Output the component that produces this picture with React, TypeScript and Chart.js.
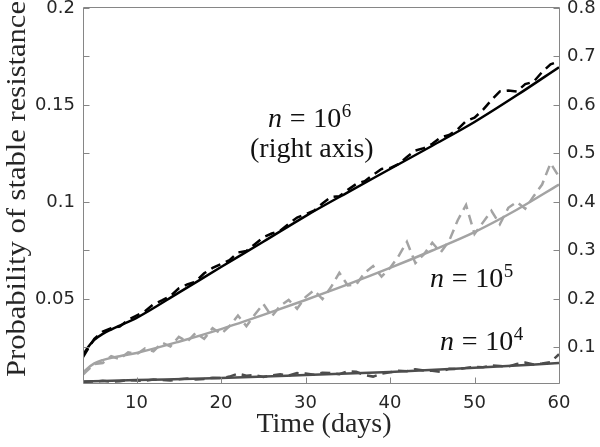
import React, { useEffect, useRef } from 'react';
import { Chart, registerables } from 'chart.js';

Chart.register(...registerables);

// ---- axis ranges ----
const X_MIN = 3.66;
const X_MAX = 60;
const LEFT_MIN = 0.0067;
const LEFT_MAX = 0.2;
const RIGHT_MIN = 0.0268;
const RIGHT_MAX = 0.8;

// ---- simulation days (dashed curves) ----
const simDays = [
  3.66, 4, 5, 6, 7, 8, 9, 10, 11, 12, 13, 14, 15, 16, 17, 18, 19, 20, 21, 22, 23, 24, 25, 26, 27, 28, 29, 30,
  31, 32, 33, 34, 35, 36, 37, 38, 39, 40, 41, 42, 43, 44, 45, 46, 47, 48, 49, 50, 51, 52, 53, 54, 55, 56, 57,
  58, 59, 60,
];

// n = 10^6, simulated (right axis)
const n6Sim = [
  0.08, 0.09, 0.118, 0.133, 0.14, 0.143, 0.157, 0.166, 0.175, 0.189, 0.197, 0.206, 0.222, 0.23, 0.236, 0.253,
  0.264, 0.272, 0.28, 0.296, 0.299, 0.313, 0.327, 0.335, 0.341, 0.355, 0.368, 0.375, 0.382, 0.397, 0.41, 0.412,
  0.425, 0.437, 0.443, 0.456, 0.468, 0.47, 0.478, 0.493, 0.506, 0.511, 0.52, 0.533, 0.538, 0.55, 0.567, 0.574,
  0.59, 0.61, 0.628, 0.63, 0.628, 0.643, 0.648, 0.668, 0.684, 0.69,
];

// n = 10^5, simulated (left axis)
const n5Sim = [
  0.011, 0.0125, 0.0165, 0.017, 0.0205, 0.019, 0.0225, 0.0215, 0.0245, 0.023, 0.0275, 0.0255, 0.0305, 0.028,
  0.0325, 0.0295, 0.035, 0.032, 0.036, 0.0415, 0.036, 0.042, 0.0475, 0.041, 0.0465, 0.0495, 0.045, 0.051, 0.0545,
  0.05, 0.056, 0.0635, 0.057, 0.0575, 0.0635, 0.067, 0.0615, 0.066, 0.072, 0.0795, 0.0685, 0.073, 0.079, 0.074,
  0.08, 0.0905, 0.0985, 0.0835, 0.0895, 0.0955, 0.0885, 0.097, 0.1, 0.0965, 0.103, 0.109, 0.12, 0.113,
];

// n = 10^4, simulated (left axis)
const n4Sim = [
  0.0072, 0.0074, 0.0075, 0.0078, 0.0074, 0.0076, 0.0082, 0.008, 0.0078, 0.0085, 0.0082, 0.008, 0.0086, 0.009,
  0.0085, 0.0088, 0.0094, 0.0092, 0.01, 0.0115, 0.0105, 0.0108, 0.0098, 0.0106, 0.0112, 0.0105, 0.0118, 0.0116,
  0.011, 0.012, 0.0118, 0.0112, 0.0128, 0.0125, 0.0108, 0.01, 0.0115, 0.0122, 0.013, 0.0128, 0.0138, 0.0132,
  0.013, 0.0125, 0.014, 0.0138, 0.0145, 0.015, 0.0148, 0.0158, 0.0155, 0.0152, 0.0165, 0.0172, 0.0162, 0.0168,
  0.0175, 0.0215,
];

// ---- model curves (solid) ----
const n6FitDays = [3.66, 4, 4.5, 5, 6, 7, 8, 9, 10, 15, 20, 25, 30, 35, 40, 45, 50, 55, 60];
const n6Fit = [0.084, 0.094, 0.106, 0.116, 0.128, 0.137, 0.145, 0.153, 0.161, 0.213, 0.266, 0.318, 0.371, 0.42, 0.468, 0.516, 0.565, 0.62, 0.678];

const n5FitDays = [3.66, 4, 5, 6, 8, 10, 15, 20, 25, 30, 35, 40, 45, 50, 55, 60];
const n5Fit = [0.0119, 0.0135, 0.0168, 0.0185, 0.0205, 0.0222, 0.028, 0.0345, 0.0418, 0.0495, 0.0575, 0.066, 0.075, 0.0845, 0.096, 0.109];

const n4FitDays = [3.66, 10, 20, 30, 40, 50, 60];
const n4Fit = [0.0075, 0.0082, 0.0093, 0.0108, 0.0124, 0.0145, 0.017];

// ---- ticks ----
const xTicks = [10, 20, 30, 40, 50, 60];
const xTickLabels = ['10', '20', '30', '40', '50', '60'];
const leftTicks = [0.025, 0.05, 0.075, 0.1, 0.125, 0.15, 0.175, 0.2];
const leftTickLabels = ['', '0.05', '', '0.1', '', '0.15', '', '0.2'];
const rightTicks = [0.1, 0.2, 0.3, 0.4, 0.5, 0.6, 0.7, 0.8];
const rightTickLabels = ['0.1', '0.2', '0.3', '0.4', '0.5', '0.6', '0.7', '0.8'];

// ---- texts ----
const xTitle = 'Time (days)';
const yTitle = 'Probability of stable resistance';
const n6Exp = '6';
const n5Exp = '5';
const n4Exp = '4';
const rightAxisNote = '(right axis)';

const BLACK = '#000000';
const LIGHT = '#a3a3a3';
const DARK = '#4d4d4d';
const FRAME = '#868686';
const TEXT = '#262626';
const SERIF = '"Liberation Serif", "Times New Roman", serif';
const SANS = '"DejaVu Sans", sans-serif';

const pts = (xs: number[], ys: number[]) => xs.map((x, i) => ({ x, y: ys[i] }));

function drawMath(ctx: CanvasRenderingContext2D, x: number, baseline: number, exp: string, size: number) {
  ctx.textAlign = 'left';
  ctx.textBaseline = 'alphabetic';
  ctx.font = `italic ${size}px ${SERIF}`;
  ctx.fillText('n', x, baseline);
  let cx = x + ctx.measureText('n').width;
  ctx.font = `${size}px ${SERIF}`;
  const thick = size * 0.278;
  cx += thick;
  ctx.fillText('=', cx, baseline);
  cx += ctx.measureText('=').width + thick;
  ctx.fillText('10', cx, baseline);
  cx += ctx.measureText('10').width;
  ctx.font = `${Math.round(size * 0.68)}px ${SERIF}`;
  ctx.fillText(exp, cx + 0.5, baseline - size * 0.36);
}

const framePlugin = {
  id: 'frameAndText',
  afterDraw(chart: any) {
    const ctx: CanvasRenderingContext2D = chart.ctx;
    const { left, right, top, bottom } = chart.chartArea;
    const xs = chart.scales.x;
    const yl = chart.scales.y;
    const yr = chart.scales.y1;
    ctx.save();
    ctx.strokeStyle = FRAME;
    ctx.lineWidth = 1;
    const L = Math.round(left) + 0.5;
    const R = Math.round(right) + 0.5;
    const T = Math.round(top) - 0.5;
    const B = Math.round(bottom) + 0.5;
    ctx.beginPath();
    ctx.moveTo(L, T);
    ctx.lineTo(R, T);
    ctx.lineTo(R, B);
    ctx.lineTo(L, B);
    ctx.closePath();
    ctx.stroke();
    const tl = 6;
    ctx.beginPath();
    leftTicks.forEach((v) => {
      const p = Math.round(yl.getPixelForValue(v)) + 0.5;
      ctx.moveTo(L, p);
      ctx.lineTo(L + tl, p);
    });
    rightTicks.forEach((v) => {
      const p = Math.round(yr.getPixelForValue(v)) + 0.5;
      ctx.moveTo(R, p);
      ctx.lineTo(R - tl, p);
    });
    xTicks.forEach((v) => {
      const p = Math.round(xs.getPixelForValue(v)) + 0.5;
      ctx.moveTo(p, B);
      ctx.lineTo(p, B - tl);
    });
    ctx.stroke();

    // titles
    ctx.fillStyle = TEXT;
    ctx.font = `28px ${SERIF}`;
    ctx.textAlign = 'center';
    ctx.textBaseline = 'alphabetic';
    ctx.fillText(xTitle, 324, 432);
    ctx.save();
    ctx.translate(25, 189);
    ctx.rotate(-Math.PI / 2);
    const w = ctx.measureText(yTitle).width;
    ctx.scale(376 / w, 1);
    ctx.fillText(yTitle, 0, 0);
    ctx.restore();

    // annotations
    ctx.fillStyle = '#111111';
    drawMath(ctx, 268, 127, n6Exp, 28);
    ctx.font = `28px ${SERIF}`;
    ctx.textAlign = 'left';
    ctx.fillText(rightAxisNote, 250, 157);
    drawMath(ctx, 430, 287, n5Exp, 28);
    drawMath(ctx, 440, 350, n4Exp, 28);
    ctx.restore();
  },
};

const noPad = (s: any) => {
  s.paddingTop = 0;
  s.paddingBottom = 0;
  s.paddingLeft = 0;
  s.paddingRight = 0;
};

export default function App() {
  const ref = useRef<HTMLCanvasElement | null>(null);
  useEffect(() => {
    if (!ref.current) return;
    const dashed = [10, 6];
    const chart = new Chart(ref.current, {
      type: 'line',
      data: {
        datasets: [
          { data: pts(simDays, n4Sim), yAxisID: 'y', borderColor: DARK, borderWidth: 2.5, borderDash: dashed, pointRadius: 0, tension: 0 },
          { data: pts(n4FitDays, n4Fit), yAxisID: 'y', borderColor: DARK, borderWidth: 2.5, pointRadius: 0, cubicInterpolationMode: 'monotone' },
          { data: pts(simDays, n5Sim), yAxisID: 'y', borderColor: LIGHT, borderWidth: 2.5, borderDash: dashed, pointRadius: 0, tension: 0 },
          { data: pts(n5FitDays, n5Fit), yAxisID: 'y', borderColor: LIGHT, borderWidth: 2.5, pointRadius: 0, cubicInterpolationMode: 'monotone' },
          { data: pts(simDays, n6Sim), yAxisID: 'y1', borderColor: BLACK, borderWidth: 2.5, borderDash: dashed, pointRadius: 0, tension: 0 },
          { data: pts(n6FitDays, n6Fit), yAxisID: 'y1', borderColor: BLACK, borderWidth: 2.5, pointRadius: 0, cubicInterpolationMode: 'monotone' },
        ] as any,
      },
      options: {
        responsive: false,
        animation: false,
        events: [],
        layout: { padding: { top: 8, left: 0, right: 0, bottom: 0 } },
        plugins: { legend: { display: false }, tooltip: { enabled: false }, title: { display: false } },
        scales: {
          x: {
            type: 'linear',
            min: X_MIN,
            max: X_MAX,
            grid: { display: false, drawTicks: false },
            border: { display: false },
            afterBuildTicks: (s: any) => { s.ticks = xTicks.map((v) => ({ value: v })); },
            afterFit: (s: any) => { s.height = 64; noPad(s); },
            ticks: {
              autoSkip: false,
              maxRotation: 0,
              padding: 10,
              color: TEXT,
              font: { family: SANS, size: 18 },
              callback: (_v: any, i: number) => xTickLabels[i],
            },
          },
          y: {
            type: 'linear',
            position: 'left',
            min: LEFT_MIN,
            max: LEFT_MAX,
            grid: { display: false, drawTicks: false },
            border: { display: false },
            afterBuildTicks: (s: any) => { s.ticks = leftTicks.map((v) => ({ value: v })); },
            afterFit: (s: any) => { s.width = 83; noPad(s); },
            ticks: {
              autoSkip: false,
              padding: 8,
              color: TEXT,
              font: { family: SANS, size: 18 },
              callback: (_v: any, i: number) => leftTickLabels[i],
            },
          },
          y1: {
            type: 'linear',
            position: 'right',
            min: RIGHT_MIN,
            max: RIGHT_MAX,
            grid: { display: false, drawTicks: false },
            border: { display: false },
            afterBuildTicks: (s: any) => { s.ticks = rightTicks.map((v) => ({ value: v })); },
            afterFit: (s: any) => { s.width = 41; noPad(s); },
            ticks: {
              autoSkip: false,
              padding: 8,
              color: TEXT,
              font: { family: SANS, size: 18 },
              callback: (_v: any, i: number) => rightTickLabels[i],
            },
          },
        },
      } as any,
      plugins: [framePlugin],
    });
    return () => chart.destroy();
  }, []);
  return (
    <div style={{ position: 'absolute', left: 0, top: 0, width: 600, height: 447, background: '#fff' }}>
      <canvas ref={ref} width={600} height={447} style={{ display: 'block' }} />
    </div>
  );
}
